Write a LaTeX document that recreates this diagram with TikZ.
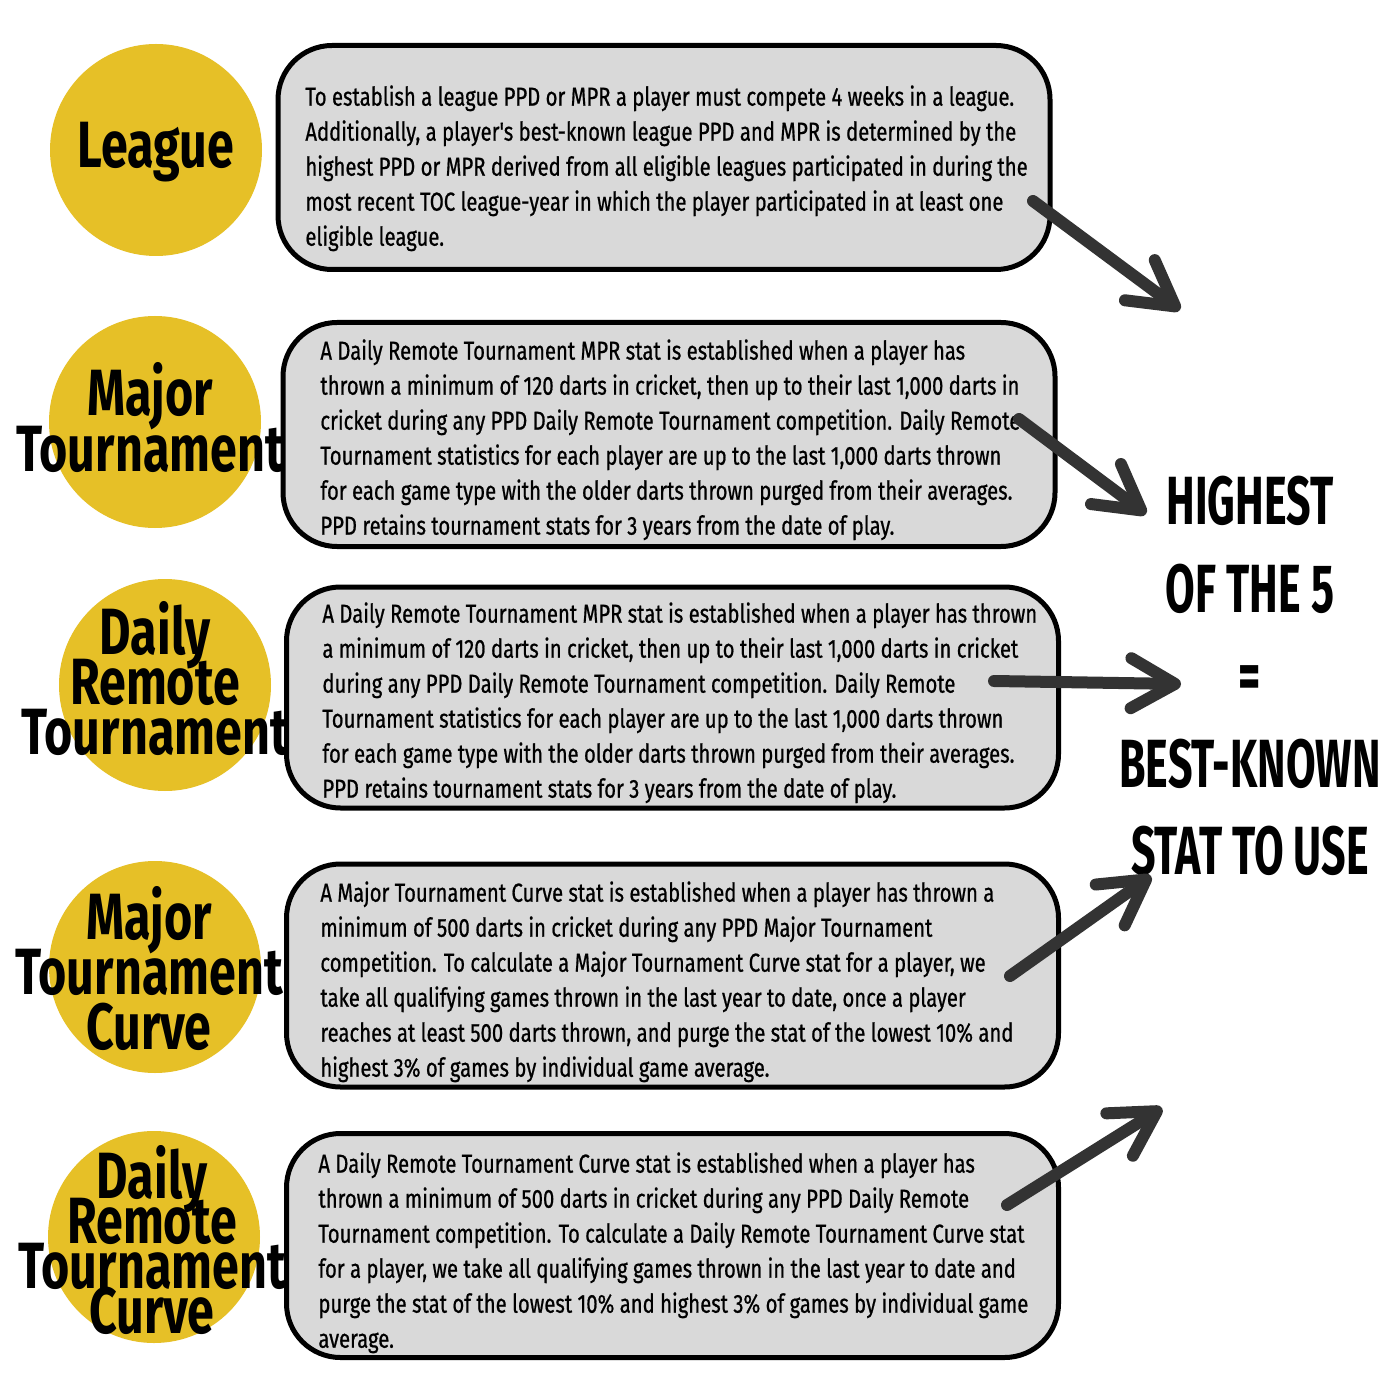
\documentclass[tikz,border=0pt]{standalone}
\usepackage{fontspec}
\usetikzlibrary{arrows.meta}
\newfontfamily\bodyf{Fira Sans}[FakeStretch=0.78,FakeBold=0.7]
\newfontfamily\circf{Fira Sans}[FakeStretch=0.74]
\newfontfamily\rightf{Fira Sans}[FakeStretch=0.63]
\newcommand\mynolineskip{\lineskiplimit-100pt\relax}
\definecolor{gold}{HTML}{E6C027}
\definecolor{boxgray}{HTML}{D9D9D9}
\definecolor{arrowgray}{HTML}{333333}
\tikzset{
  circ/.style={circle, fill=gold, minimum size=106pt, inner sep=0pt},
  statbox/.style={draw=black, line width=2.5pt, fill=boxgray, rounded corners=27pt,
    minimum width=386pt, minimum height=112pt, inner sep=0pt},
  boxtext/.style={font=\bodyf\fontsize{13}{17.5}\selectfont, align=left, inner sep=0pt, anchor=north west},
  circlabel/.style={font=\circf\bfseries\fontsize{32.7}{#1}\selectfont\mynolineskip, align=center, inner sep=0pt, anchor=north},
  bigtext/.style={font=\rightf\bfseries\fontsize{34.1}{43.75}\selectfont\mynolineskip, align=center, inner sep=0pt, anchor=north},
  arr/.style={draw=arrowgray, line width=6pt, line cap=round,
    -{Straight Barb[length=22pt,width=25pt,round]}}
}
\begin{document}
\begin{tikzpicture}[x=0.5pt,y=-0.5pt]
\fill[white] (0,0) rectangle (1400,1400);
\useasboundingbox (0,0) rectangle (1400,1400);
% circles
\node[circ] (c1) at (156,150) {};
\node[circ] (c2) at (155,422) {};
\node[circ] (c3) at (165,685) {};
\node[circ] (c4) at (155,967) {};
\node[circ] (c5) at (154,1237) {};
% boxes
\node[statbox] (b1) at (664,157.5) {};
\node[statbox] (b2) at (669,434.5) {};
\node[statbox, minimum height=110.5pt] (b3) at (672.5,697.5) {};
\node[statbox, minimum height=111.5pt] (b4) at (672.5,975.5) {};
\node[statbox] (b5) at (672.5,1245.5) {};
% circle labels
\node[circlabel=28pt] (l1) at (156,122) {League};
\node[circlabel=28pt] (l2) at (150,362) {Major\\Tournament};
\node[circlabel=25pt] (l3) at (155,601) {Daily\\Remote\\Tournament};
\node[circlabel=27.5pt] (l4) at (149,886) {Major\\Tournament\\Curve};
\node[circlabel=22.5pt] (l5) at (152,1145) {Daily\\Remote\\Tournament\\Curve};
% box texts
\node[boxtext] (t1) at (305,85) {To establish a league PPD or MPR a player must compete 4 weeks in a league.\\
Additionally, a player's best-known league PPD and MPR is determined by the\\
highest PPD or MPR derived from all eligible leagues participated in during the\\
most recent TOC league-year in which the player participated in at least one\\
eligible league.};
\node[boxtext] (t2) at (320,339) {A Daily Remote Tournament MPR stat is established when a player has\\
thrown a minimum of 120 darts in cricket, then up to their last 1,000 darts in\\
cricket during any PPD Daily Remote Tournament competition. Daily Remote\\
Tournament statistics for each player are up to the last 1,000 darts thrown\\
for each game type with the older darts thrown purged from their averages.\\
PPD retains tournament stats for 3 years from the date of play.};
\node[boxtext] (t3) at (322,602) {A Daily Remote Tournament MPR stat is established when a player has thrown\\
a minimum of 120 darts in cricket, then up to their last 1,000 darts in cricket\\
during any PPD Daily Remote Tournament competition. Daily Remote\\
Tournament statistics for each player are up to the last 1,000 darts thrown\\
for each game type with the older darts thrown purged from their averages.\\
PPD retains tournament stats for 3 years from the date of play.};
\node[boxtext] (t4) at (320,881) {A Major Tournament Curve stat is established when a player has thrown a\\
minimum of 500 darts in cricket during any PPD Major Tournament\\
competition. To calculate a Major Tournament Curve stat for a player, we\\
take all qualifying games thrown in the last year to date, once a player\\
reaches at least 500 darts thrown, and purge the stat of the lowest 10\% and\\
highest 3\% of games by individual game average.};
\node[boxtext] (t5) at (318,1152) {A Daily Remote Tournament Curve stat is established when a player has\\
thrown a minimum of 500 darts in cricket during any PPD Daily Remote\\
Tournament competition. To calculate a Daily Remote Tournament Curve stat\\
for a player, we take all qualifying games thrown in the last year to date and\\
purge the stat of the lowest 10\% and highest 3\% of games by individual game\\
average.};
% right text
\node[bigtext] (res) at (1250,476) {HIGHEST\\OF THE 5\\=\\BEST-KNOWN\\STAT TO USE};
% arrows
\coordinate (s1) at (1033,201);
\coordinate (e1) at (1180,310);
\coordinate (s2) at (1019,419);
\coordinate (e2) at (1146,514);
\coordinate (s3) at (994,681);
\coordinate (e3) at (1181,684);
\coordinate (s4) at (1010,976);
\coordinate (e4) at (1151,876);
\coordinate (s5) at (1007,1205);
\coordinate (e5) at (1162,1108);
\draw[arr] (s1) -- (e1);
\draw[arr] (s2) -- (e2);
\draw[arr] (s3) -- (e3);
\draw[arr] (s4) -- (e4);
\draw[arr] (s5) -- (e5);
\end{tikzpicture}
\end{document}
